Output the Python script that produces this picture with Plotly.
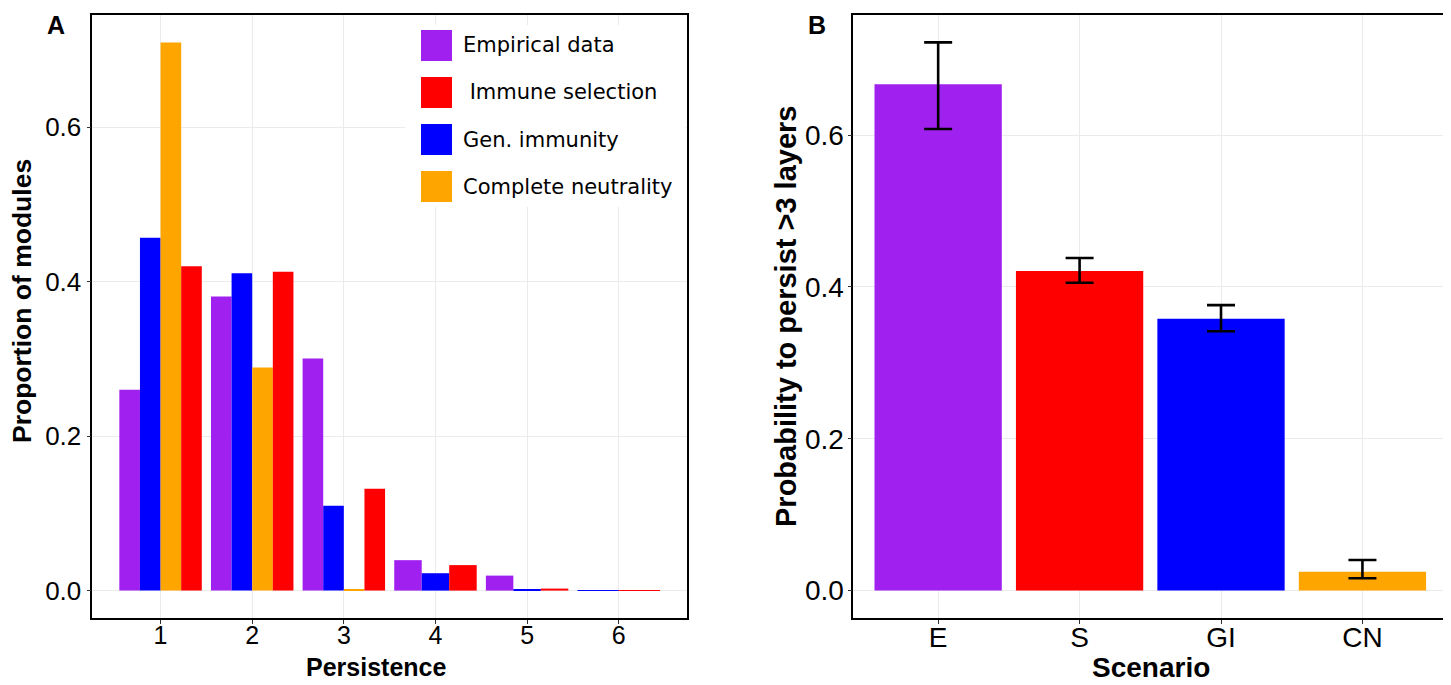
import plotly.graph_objects as go

# ---------------- data ----------------
persistence = [1, 2, 3, 4, 5, 6]
# series in dodge order: Empirical, Gen. immunity, Complete neutrality, Immune selection
empirical = [0.260, 0.381, 0.3005, 0.0394, 0.0194, None]
gen_immunity = [0.457, 0.411, 0.110, 0.0225, 0.0008, 0.0003]
complete_neutrality = [0.710, 0.289, 0.002, None, None, None]
immune_selection = [0.420, 0.413, 0.132, 0.033, 0.0026, 0.0005]

scenarios = ["E", "S", "GI", "CN"]
prob_persist = [0.667, 0.421, 0.358, 0.0249]
err_upper = [0.722, 0.438, 0.376, 0.0403]
err_lower = [0.608, 0.4055, 0.3415, 0.0162]

legend_labels = ["Empirical data", " Immune selection", "Gen. immunity", "Complete neutrality"]

PURPLE, RED, BLUE, ORANGE = "#A020F0", "#FF0000", "#0000FF", "#FFA500"
scenario_colors = [PURPLE, RED, BLUE, ORANGE]

# the page body has an 8px margin: lay out in window pixels, shifted by it
OFF = 8
W, H = 1451 - OFF, 685 - OFF
AX0, AX1 = 92.3, 687.0
BX0, BX1 = 853.3, 1447.3
PY0, PY1 = 15.0, 618.0


def px(x):
    return (x - OFF) / W


def py(y):
    return 1 - (y - OFF) / H


fig = go.Figure()

# ---------- panel A: dodged bars (ggplot position_dodge with missing groups) ----------
series = [
    ("Empirical data", empirical, PURPLE),
    ("Gen. immunity", gen_immunity, BLUE),
    ("Complete neutrality", complete_neutrality, ORANGE),
    ("Immune selection", immune_selection, RED),
]
total_w = 0.9
for name, vals, col in series:
    xs, ys, ws, offs = [], [], [], []
    for i, xv in enumerate(persistence):
        if vals[i] is None:
            continue
        present = [s for s in series if s[1][i] is not None]
        n = len(present)
        k = [s[0] for s in present].index(name)
        w = total_w / n
        xs.append(xv)
        ys.append(vals[i])
        ws.append(w)
        offs.append(-total_w / 2 + k * w)
    fig.add_trace(go.Bar(x=xs, y=ys, width=ws, offset=offs, marker_color=col,
                         marker_line_width=0, name=name, showlegend=False,
                         xaxis="x", yaxis="y"))

# ---------- panel B ----------
fig.add_trace(go.Bar(
    x=scenarios, y=prob_persist, width=0.9, marker_color=scenario_colors,
    marker_line_width=0, showlegend=False, xaxis="x2", yaxis="y2",
    error_y=dict(type="data", symmetric=False,
                 array=[u - v for u, v in zip(err_upper, prob_persist)],
                 arrayminus=[v - l for v, l in zip(prob_persist, err_lower)],
                 color="black", thickness=2.6, width=14),
))

axis_common = dict(showline=True, linecolor="black", linewidth=1.6, mirror=True,
                   ticks="outside", ticklen=4, tickwidth=1.4, tickcolor="#333333",
                   showgrid=True, gridcolor="#ebebeb", gridwidth=1, zeroline=False)

fig.update_layout(
    width=W, height=H,
    margin=dict(l=0, r=0, t=0, b=0),
    paper_bgcolor="white", plot_bgcolor="white",
    barmode="overlay",
    xaxis=dict(domain=[px(AX0), px(AX1)], range=[0.255, 6.745], tickvals=persistence,
               tickfont=dict(family="Liberation Sans", size=25, color="black"),
               ticklabelstandoff=-10, anchor="y", **axis_common),
    yaxis=dict(domain=[py(PY1), py(PY0)], range=[-0.0355, 0.7455], tickvals=[0, 0.2, 0.4, 0.6],
               tickformat=".1f", tickfont=dict(family="Liberation Sans", size=26, color="black"),
               anchor="x", **axis_common),
    xaxis2=dict(domain=[px(BX0), px(BX1)], range=[-0.6, 3.6], type="category",
                tickfont=dict(family="Liberation Sans", size=28, color="black"),
                ticklabelstandoff=-10, anchor="y2", **axis_common),
    yaxis2=dict(domain=[py(PY1), py(PY0)], range=[-0.0361, 0.7581], tickvals=[0, 0.2, 0.4, 0.6],
                tickformat=".1f", tickfont=dict(family="Liberation Sans", size=28, color="black"),
                ticklabelstandoff=-2, anchor="x2", **axis_common),
)

annotations = []
bold = dict(family="Liberation Sans", color="black")


def note(x, y, text, size, angle=0, family=None, xanchor="center"):
    f = dict(size=size, **bold)
    if family:
        f["family"] = family
    return dict(x=px(x), y=py(y), text=text, showarrow=False, xref="paper", yref="paper",
                xanchor=xanchor, yanchor="middle", textangle=angle, font=f)


# panel labels
annotations.append(note(56.5, 25, "<b>A</b>", 25))
annotations.append(note(817, 25, "<b>B</b>", 25))
# axis titles
annotations.append(note(376, 667, "<b>Persistence</b>", 25))
annotations.append(note(1151, 667, "<b>Scenario</b>", 28))
annotations.append(note(22, 301, "<b>Proportion of modules</b>", 26.5, angle=-90))
annotations.append(note(786, 317, "<b>Probability to persist &gt;3 layers</b>", 29, angle=-90))

# custom legend (inside panel A)
shapes = [dict(type="rect", xref="paper", yref="paper", x0=px(405), x1=px(685.5), y0=py(207), y1=py(25),
               fillcolor="white", line_width=0, layer="above")]
legend_colors = [PURPLE, RED, BLUE, ORANGE]
for i, (lab, col) in enumerate(zip(legend_labels, legend_colors)):
    top = 30 + i * 47
    shapes.append(dict(type="rect", xref="paper", yref="paper", x0=px(421), x1=px(452),
                       y0=py(top + 31), y1=py(top), fillcolor=col, line_width=0, layer="above"))
    annotations.append(note(461, top + 15.5, lab, 21, family="DejaVu Sans", xanchor="left"))

fig.update_layout(annotations=annotations, shapes=shapes)

fig.write_html("out.html")
